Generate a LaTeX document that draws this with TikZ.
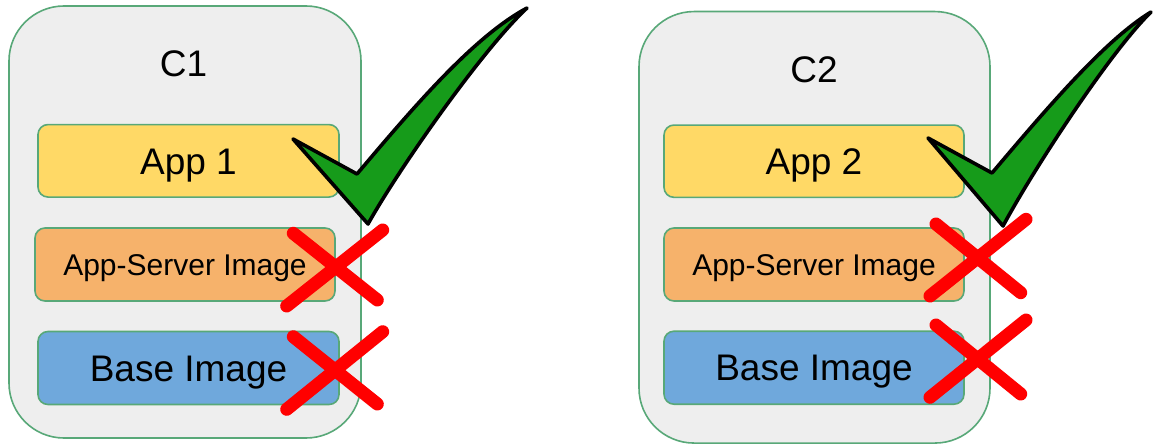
\documentclass[tikz,border=0pt]{standalone}
\usepackage{fontspec}
\setmainfont{Liberation Sans}
\definecolor{cfill}{HTML}{EEEEEE}
\definecolor{gborder}{RGB}{88,168,120}
\definecolor{appyellow}{HTML}{FFD966}
\definecolor{srvorange}{HTML}{F6B26B}
\definecolor{baseblue}{HTML}{6FA8DC}
\definecolor{checkgreen}{RGB}{22,155,26}
\definecolor{crossred}{RGB}{255,0,0}
\tikzset{
  container/.style={draw=gborder, fill=cfill, line width=1.6pt, rounded corners=55pt, inner sep=0pt, outer sep=0pt},
  layerbox/.style={draw=gborder, line width=1.6pt, rounded corners=10pt, inner sep=0pt, outer sep=0pt, text depth=0pt},
  bigfont/.style={font=\fontsize{37}{40}\selectfont, text height=26.5pt},
  midfont/.style={font=\fontsize{30}{34}\selectfont, text height=21.5pt},
  title/.style={font=\fontsize{37}{40}\selectfont, anchor=base, inner sep=0pt},
  checkmark/.style={draw=black, fill=checkgreen, line width=3.6pt, line join=round},
  crossline/.style={draw=crossred, line width=13pt, line cap=round},
}
\begin{document}
\begin{tikzpicture}[x=1pt,y=-1pt]
\useasboundingbox (0,0) rectangle (1155,444);
\fill[white] (0,0) rectangle (1155,444);

% left container
\node[container, minimum width=352pt, minimum height=432pt] (c1) at (185,222) {};
\node[title] (c1t) at (183.5,76.7) {C1};
\node[layerbox, fill=appyellow, bigfont, minimum width=301pt, minimum height=72.5pt] (app1) at (188.5,160.8) {App 1};
\node[layerbox, fill=srvorange, midfont, minimum width=300pt, minimum height=73pt] (srv1) at (185,264.5) {App-Server Image};
\node[layerbox, fill=baseblue, bigfont, minimum width=301pt, minimum height=73pt] (base1) at (188.5,368) {Base Image};

% right container
\node[container, minimum width=351pt, minimum height=431.5pt] (c2) at (814.5,227.3) {};
\node[title] (c2t) at (814,82.3) {C2};
\node[layerbox, fill=appyellow, bigfont, minimum width=300pt, minimum height=72.3pt] (app2) at (814,161.2) {App 2};
\node[layerbox, fill=srvorange, midfont, minimum width=300pt, minimum height=73pt] (srv2) at (814,264.5) {App-Server Image};
\node[layerbox, fill=baseblue, bigfont, minimum width=300pt, minimum height=73pt] (base2) at (814,367.7) {Base Image};

% check marks
\draw[checkmark] (293,139) -- (357,174) .. controls (412,109) and (473,37) .. (527,8)
   .. controls (482,50) and (398,170) .. (368,224) -- cycle;
\draw[checkmark] (928,138) -- (992,173) .. controls (1047,108) and (1105,40) .. (1151,12)
   .. controls (1110,52) and (1033,170) .. (1003,226) -- cycle;

% crosses
\draw[crossline] (293.3,233.3) -- (377.3,300);
\draw[crossline] (382.7,230) -- (286.7,306);
\draw[crossline] (293.3,336.7) -- (377.3,404);
\draw[crossline] (382.7,331.7) -- (286.7,409.3);

\draw[crossline] (936,224) -- (1020.7,292.7);
\draw[crossline] (1026,219.3) -- (930,296);
\draw[crossline] (936,325) -- (1020.7,394);
\draw[crossline] (1026,320) -- (930,397.3);
\end{tikzpicture}
\end{document}
